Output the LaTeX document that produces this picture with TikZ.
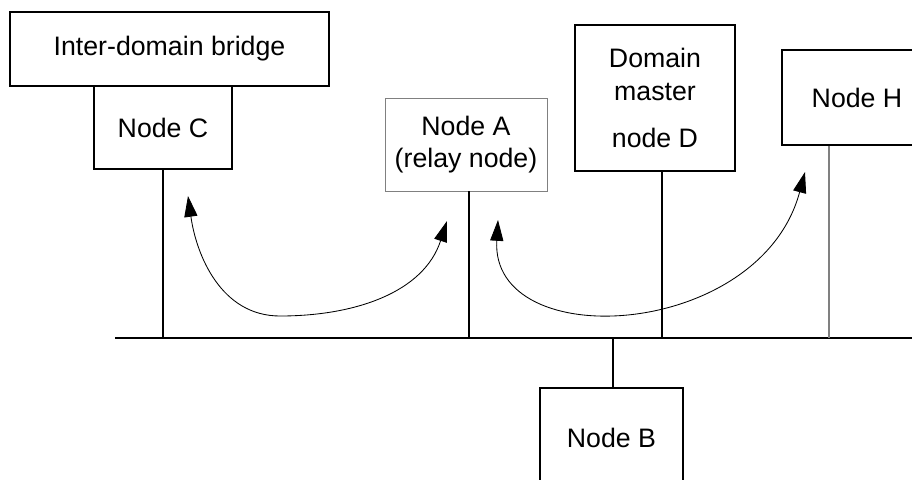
\documentclass[tikz,border=0pt]{standalone}
\usepackage{fontspec}
\setmainfont{Liberation Sans}
\usetikzlibrary{positioning,arrows.meta}

\begin{document}
\begin{tikzpicture}[
    nodebox/.style={draw,line width=1.4pt,inner sep=0pt,align=center,font=\fontsize{19}{23}\selectfont},
    relaybox/.style={nodebox,draw=gray,line width=0.7pt},
    hop/.style={line width=0.6pt,{Triangle[length=5.2mm,width=3.3mm]}-{Triangle[length=5.2mm,width=3.3mm]}}
]
\useasboundingbox (0,0) rectangle (22.8,-11.975);
\clip (0,0) rectangle (22.8,-11.975);

% Stations
\node[nodebox,minimum width=7.975cm,minimum height=1.85cm] (bridge) at (4.2375,-1.225) {Inter-domain bridge};
\node[nodebox,minimum width=3.45cm,minimum height=2.075cm] (C) at (4.075,-3.1875) {Node C};
\node[relaybox,minimum width=4.05cm,minimum height=2.325cm] (A) at (11.65,-3.6125) {Node A\\(relay node)};
\node[nodebox,minimum width=4cm,minimum height=3.65cm] (D) at (16.375,-2.45) {Domain\\master\\[0.375cm]node D};
\node[nodebox,minimum width=3.75cm,minimum height=2.375cm] (H) at (21.425,-2.4375) {Node H};
\node[nodebox,minimum width=3.575cm,minimum height=2.5cm] (B) at (15.2875,-10.95) {Node B};

% Bus
\coordinate (busL) at (2.875,-8.45);
\coordinate (busR) at (23,-8.45);
\draw[line width=1.6pt] (busL) -- (busR);

% Drops to the bus
\draw[line width=1.4pt] (C.south) -- (C.south |- busL);
\draw[line width=1.4pt] ([xshift=0.075cm]A.south) -- ([xshift=0.075cm]A.south |- busL);
\draw[line width=1.4pt] ([xshift=0.175cm]D.south) -- ([xshift=0.175cm]D.south |- busL);
\draw[gray,line width=1pt] ([xshift=-0.7cm]H.south) -- ([xshift=-0.7cm]H.south |- busL);
\draw[line width=1.4pt] ([xshift=0.04cm]B.north |- busL) -- ([xshift=0.04cm]B.north);

% Relayed paths
\coordinate (c1) at (4.7,-4.9);
\coordinate (low1) at (7,-7.9);
\coordinate (a1) at (11.175,-5.525);
\coordinate (a2) at (12.45,-5.5);
\coordinate (h1) at (20.125,-4.3);
\draw[hop] (c1) to[out=-82,in=180] (low1) to[out=0,in=-108] (a1);
\draw[hop] (a2) .. controls (12.25,-8.875) and (19,-8.5) .. (h1);
\end{tikzpicture}
\end{document}
